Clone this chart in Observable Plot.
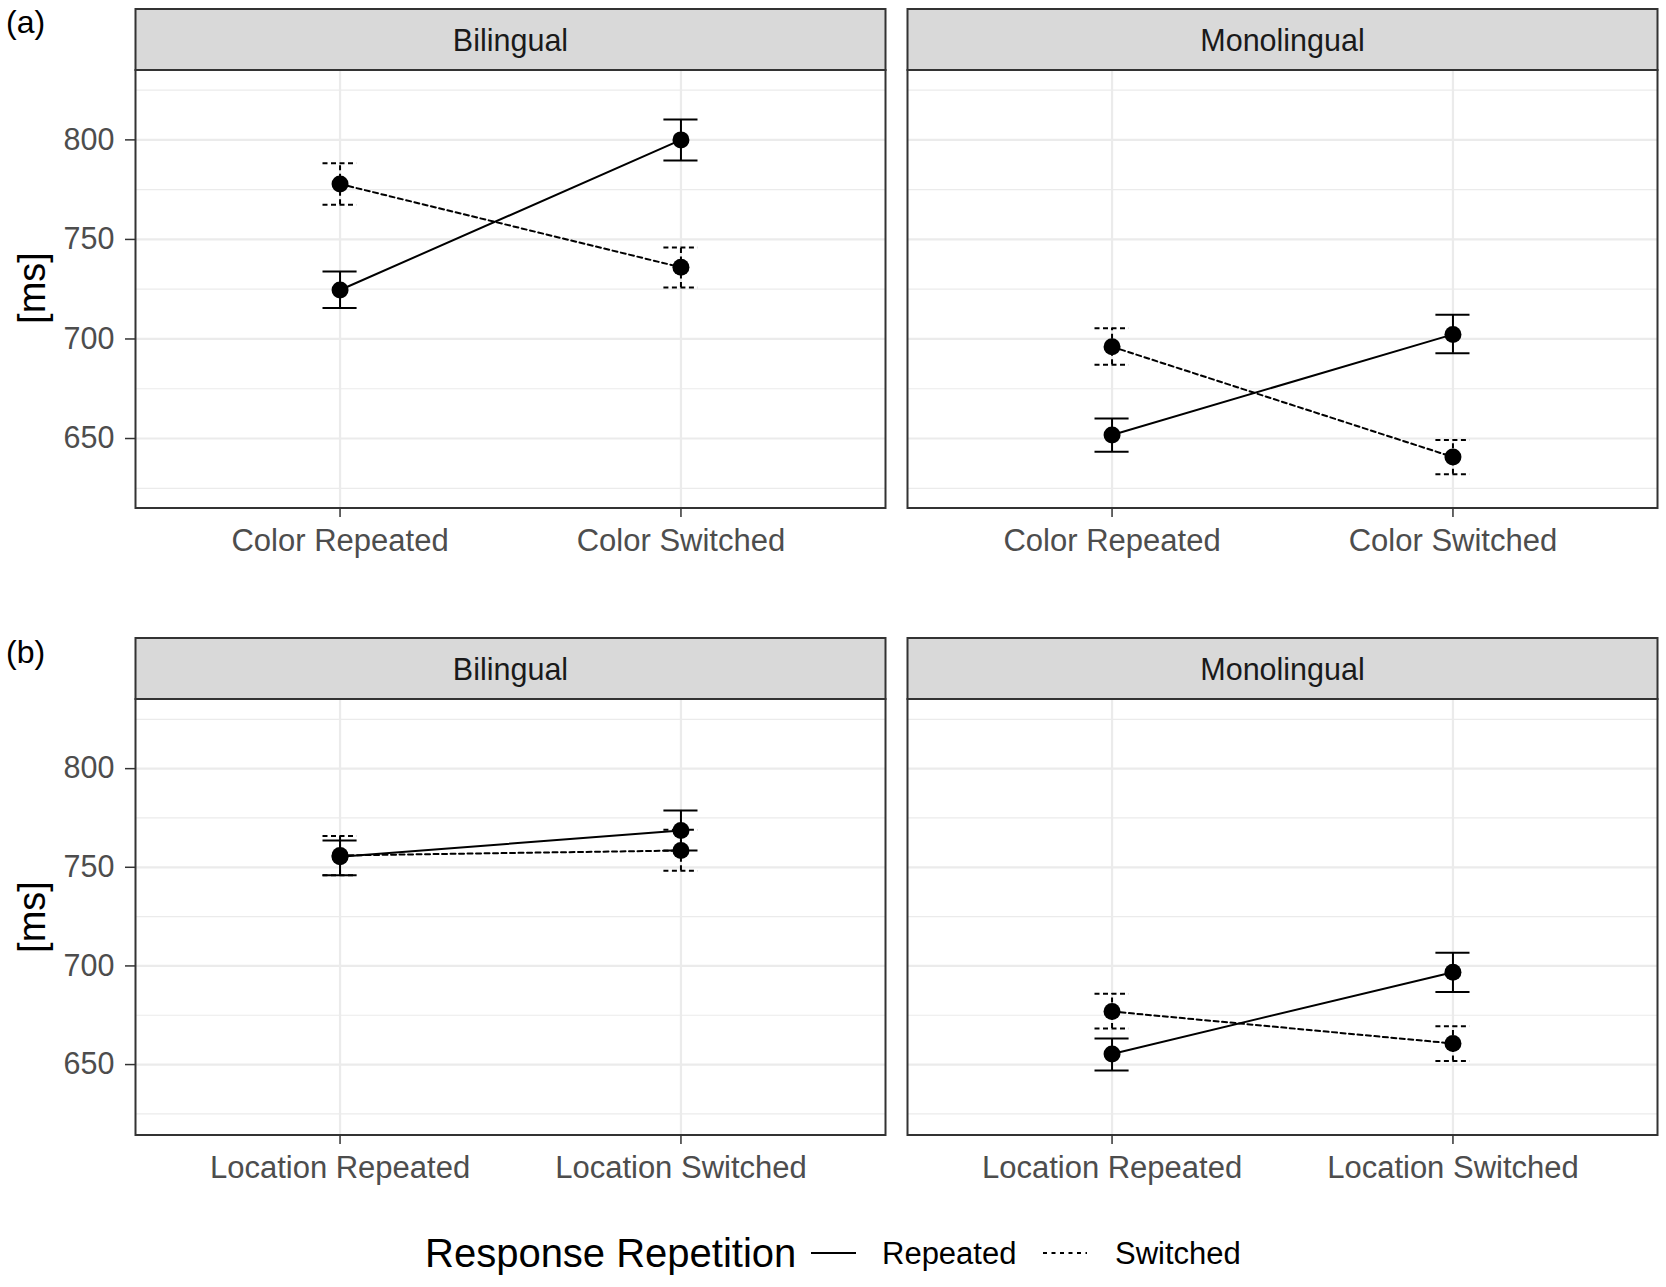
<!DOCTYPE html>
<html><head><meta charset="utf-8">
<script src="https://cdn.jsdelivr.net/npm/d3@7"></script>
<script src="https://cdn.jsdelivr.net/npm/@observablehq/plot@0.6"></script>
<style>
html,body{margin:0;padding:0;background:#fff;overflow:hidden}
#wrap{position:relative;width:1666px;height:1287px;background:#fff;font-family:"Liberation Sans",Arial,sans-serif;color:#000}
.abs{position:absolute;white-space:nowrap}
.row{position:absolute;left:0}
</style></head><body><div id="wrap"></div>
<script>
const groups = ["Bilingual", "Monolingual"];
const seriesNames = ["Repeated", "Switched"];
const colorConditions = ["Color Repeated", "Color Switched"];
const locationConditions = ["Location Repeated", "Location Switched"];
const yTicks = [650, 700, 750, 800];
const yMinorTicks = [625, 675, 725, 775, 825];
// order: Bilingual-Repeated (cond1, cond2), Bilingual-Switched, Monolingual-Repeated, Monolingual-Switched
const colorMean  = [724.6, 800.0, 777.8, 736.0, 651.8, 702.3, 696.1, 640.7];
const colorLower = [715.6, 789.6, 767.4, 725.8, 643.4, 692.8, 687.1, 632.1];
const colorUpper = [733.9, 810.2, 788.2, 746.0, 660.0, 712.2, 705.4, 649.3];
const locationMean  = [755.4, 768.6, 756.0, 758.5, 655.4, 696.8, 676.9, 660.7];
const locationLower = [746.0, 758.5, 746.0, 748.2, 647.0, 686.8, 668.3, 651.8];
const locationUpper = [763.6, 778.8, 765.8, 769.0, 663.2, 706.7, 685.9, 669.4];

const FONT = '"Liberation Sans", Arial, sans-serif';
const dashOf = s => s === "Switched" ? "5,3.5" : null;

function buildRows(conditions, mean, lower, upper) {
  const rows = [];
  let k = 0;
  for (const g of groups) for (const s of seriesNames) conditions.forEach((c, i) => {
    rows.push({group: g, series: s, cond: c, xi: i + 1, mean: mean[k], lo: lower[k], hi: upper[k]});
    k++;
  });
  return rows;
}

function panel(conditions, mean, lower, upper, frameH, yDomain, height) {
  const rows = buildRows(conditions, mean, lower, upper);
  const marginTop = 69.5;
  const stripH = 61;
  const seriesMarks = seriesNames.flatMap(s => {
    const d = rows.filter(r => r.series === s);
    const dash = dashOf(s);
    return [
      Plot.ruleX(d, {fx: "group", x: "xi", y1: "lo", y2: "hi", stroke: "#000", strokeWidth: 2, strokeDasharray: dash}),
      Plot.ruleY(d, {fx: "group", y: "hi", x1: r => r.xi - 0.05, x2: r => r.xi + 0.05, stroke: "#000", strokeWidth: 2, strokeDasharray: dash}),
      Plot.ruleY(d, {fx: "group", y: "lo", x1: r => r.xi - 0.05, x2: r => r.xi + 0.05, stroke: "#000", strokeWidth: 2, strokeDasharray: dash}),
      Plot.line(d, {fx: "group", x: "xi", y: "mean", z: "group", stroke: "#000", strokeWidth: 2, strokeDasharray: dash}),
      Plot.dot(d, {fx: "group", x: "xi", y: "mean", r: 8.5, fill: "#000", stroke: null})
    ];
  });
  return Plot.plot({
    width: 1666,
    height,
    marginLeft: 135,
    marginRight: 9,
    marginTop,
    marginBottom: height - marginTop - frameH,
    style: {fontFamily: FONT, background: "transparent", overflow: "visible"},
    fx: {domain: groups, paddingInner: 0.0285, paddingOuter: 0, axis: null},
    x: {domain: [0.4, 2.6]},
    y: {domain: yDomain},
    marks: [
      Plot.gridY(yMinorTicks, {stroke: "#ebebeb", strokeOpacity: 1, strokeWidth: 1.2}),
      Plot.gridY(yTicks, {stroke: "#ebebeb", strokeOpacity: 1, strokeWidth: 2.2}),
      Plot.gridX([1, 2], {stroke: "#ebebeb", strokeOpacity: 1, strokeWidth: 2.2}),
      ...seriesMarks,
      Plot.frame({stroke: "#333333", strokeWidth: 2}),
      Plot.frame({fill: "#d9d9d9", stroke: "#333333", strokeWidth: 2, insetTop: -stripH, insetBottom: frameH}),
      Plot.text(groups, {fx: d => d, text: d => d, frameAnchor: "top", lineAnchor: "middle", dy: -29, fontSize: 30.5, fill: "#1a1a1a"}),
      Plot.axisX({ticks: [1, 2], tickFormat: d => conditions[d - 1], tickSize: 9.5, tickPadding: 11, fontSize: 31, fill: "#4d4d4d", stroke: "#333333", strokeWidth: 1.5, label: null}),
      Plot.axisY({ticks: yTicks, tickSize: 10, tickPadding: 11, fontSize: 30.5, fill: "#4d4d4d", stroke: "#333333", strokeWidth: 1.5, label: null})
    ]
  });
}

const wrap = document.getElementById("wrap");
const rowA = panel(colorConditions, colorMean, colorLower, colorUpper, 438, [615.1, 835.1], 629);
rowA.classList.add("row"); rowA.style.top = "0px";
wrap.appendChild(rowA);
const rowB = panel(locationConditions, locationMean, locationLower, locationUpper, 436, [614.3, 835.3], 570);
rowB.classList.add("row"); rowB.style.top = "629px";
wrap.appendChild(rowB);

function addText(txt, left, top, size, extra = {}) {
  const d = document.createElement("div");
  d.className = "abs";
  d.textContent = txt;
  Object.assign(d.style, {left: left + "px", top: top + "px", fontSize: size + "px", lineHeight: size + "px"}, extra);
  wrap.appendChild(d);
  return d;
}
// panel tags
addText("(a)", 6, 6, 32);
addText("(b)", 6, 636, 32);
// y-axis titles
for (const cy of [288.4, 916.5]) {
  addText("[ms]", 32, cy, 38, {transform: "translate(-50%,-50%) rotate(-90deg)"});
}
// legend
const legendY = 1253;
addText("Response Repetition", 425, legendY - 20, 40);
addText(seriesNames[0], 882, legendY - 15.5, 31);
addText(seriesNames[1], 1115, legendY - 15.5, 31);
function key(left, width, dash) {
  const ns = "http://www.w3.org/2000/svg";
  const s = document.createElementNS(ns, "svg");
  s.setAttribute("width", width); s.setAttribute("height", 10);
  s.style.position = "absolute"; s.style.left = left + "px"; s.style.top = (legendY - 5) + "px";
  const l = document.createElementNS(ns, "line");
  l.setAttribute("x1", 0); l.setAttribute("x2", width); l.setAttribute("y1", 5); l.setAttribute("y2", 5);
  l.setAttribute("stroke", "#000"); l.setAttribute("stroke-width", 2);
  if (dash) l.setAttribute("stroke-dasharray", dash);
  s.appendChild(l);
  wrap.appendChild(s);
}
key(811, 45, dashOf(seriesNames[0]));
key(1043, 44, "4,4.5");
</script></body></html>
